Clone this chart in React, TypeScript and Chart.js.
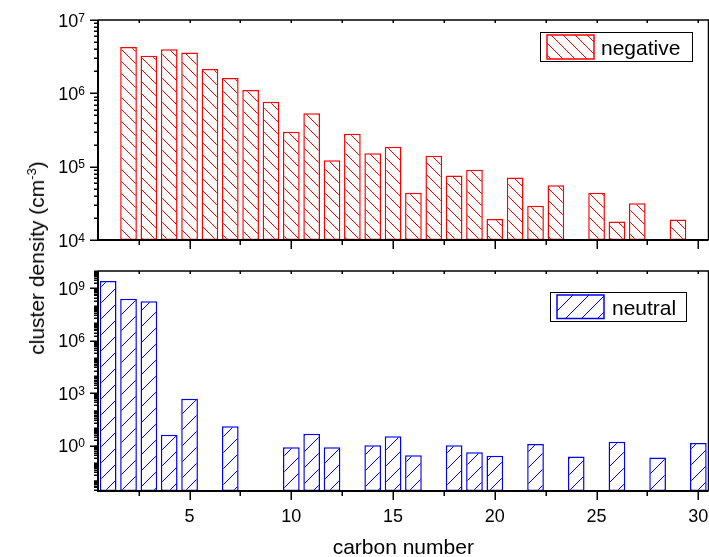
import React, { useEffect, useRef } from "react";
import { Chart, registerables } from "chart.js";

Chart.register(...registerables);

// ---------- data ----------
const carbonNumbers: string[] = [
  "1", "2", "3", "4", "5", "6", "7", "8", "9", "10",
  "11", "12", "13", "14", "15", "16", "17", "18", "19", "20",
  "21", "22", "23", "24", "25", "26", "27", "28", "29", "30",
];

const negativeDensity: (number | null)[] = [
  10300, 4.3e6, 3.26e6, 4.0e6, 3.6e6, 2.15e6, 1.62e6, 1.11e6, 7.7e5, 3.0e5,
  5.33e5, 1.22e5, 2.81e5, 1.52e5, 1.87e5, 4.4e4, 1.41e5, 7.6e4, 9.1e4, 1.93e4,
  7.1e4, 2.93e4, 5.6e4, null, 4.4e4, 1.79e4, 3.17e4, null, 1.91e4, null,
];

const neutralDensity: (number | null)[] = [
  2.7e9, 2.6e8, 1.84e8, 4.2, 485, null, 12.7, null, null, 0.8,
  4.8, 0.8, null, 1.04, 3.4, 0.28, null, 1.04, 0.41, 0.26,
  null, 1.24, null, 0.24, null, 1.67, null, 0.21, null, 1.41,
];

const xMajorTicks: number[] = [5, 10, 15, 20, 25, 30];
const xMinorTicks: number[] = [2.5, 7.5, 12.5, 17.5, 22.5, 27.5];

const topYMajorExponents: number[] = [4, 5, 6, 7];
const bottomYMajorExponents: number[] = [0, 3, 6, 9];

const topYRange: number[] = [1e4, 1e7];
const bottomYRange: number[] = [Math.pow(10, -2.6), 1e10];

const seriesNames: string[] = ["negative", "neutral"];
const xTitle = "carbon number";

// ---------- helpers ----------
const FONT = '"Liberation Sans", Arial, Helvetica, sans-serif';

function makeHatch(color: string, period: number, backslash: boolean): CanvasPattern | string {
  const c = document.createElement("canvas");
  c.width = period;
  c.height = period;
  const g = c.getContext("2d");
  if (!g) return "#fff";
  g.fillStyle = "#ffffff";
  g.fillRect(0, 0, period, period);
  g.strokeStyle = color;
  g.lineWidth = 1;
  g.beginPath();
  if (backslash) {
    g.moveTo(-2, -2);
    g.lineTo(period + 2, period + 2);
    g.moveTo(-2, period - 2);
    g.lineTo(2, period + 2);
    g.moveTo(period - 2, -2);
    g.lineTo(period + 2, 2);
  } else {
    g.moveTo(-2, period + 2);
    g.lineTo(period + 2, -2);
    g.moveTo(-2, 2);
    g.lineTo(2, -2);
    g.moveTo(period - 2, period + 2);
    g.lineTo(period + 2, period - 2);
  }
  g.stroke();
  const p = g.createPattern(c, "repeat");
  return p || "#fff";
}

type LegendBox = {
  x: number; y: number; w: number; h: number;
  sx: number; sy: number; sw: number; sh: number;
  tx: number; ty: number;
};

type PanelCfg = {
  exps: number[];
  yMin: number;
  yMax: number;
  showXLabels: boolean;
  legend: LegendBox;
  label: string;
  color: string;
  pattern: CanvasPattern | string;
};

function panelPlugin(cfg: PanelCfg) {
  return {
    id: "panelDecor",
    afterDraw(chart: any) {
      const ctx: CanvasRenderingContext2D = chart.ctx;
      const a = chart.chartArea;
      const xs = chart.scales.x;
      const ys = chart.scales.y;
      ctx.save();

      // x ticks (bottom outward, top inward)
      ctx.strokeStyle = "#000";
      ctx.lineWidth = 1.5;
      const drawX = (t: number, len: number) => {
        const px = Math.round(xs.getPixelForValue(t - 1)) + 0.25;
        ctx.beginPath();
        ctx.moveTo(px, a.bottom);
        ctx.lineTo(px, a.bottom + len);
        ctx.moveTo(px, a.top);
        ctx.lineTo(px, a.top + 3);
        ctx.stroke();
      };
      xMajorTicks.forEach((t) => drawX(t, 9));
      xMinorTicks.forEach((t) => drawX(t, 5));

      // y ticks (left outward)
      const majorVals = cfg.exps.map((e) => Math.pow(10, e));
      const dLo = Math.floor(Math.log10(cfg.yMin));
      const dHi = Math.ceil(Math.log10(cfg.yMax));
      for (let d = dLo; d <= dHi; d++) {
        for (let m = 1; m <= 9; m++) {
          const v = m * Math.pow(10, d);
          if (v < cfg.yMin * 0.999 || v > cfg.yMax * 1.001) continue;
          const isMajor = m === 1 && cfg.exps.indexOf(d) >= 0;
          const py = Math.round(ys.getPixelForValue(v)) + 0.25;
          const len = isMajor ? 8 : 4;
          ctx.beginPath();
          ctx.moveTo(a.left, py);
          ctx.lineTo(a.left - len, py);
          ctx.stroke();
        }
      }

      // frame
      ctx.lineWidth = 2;
      ctx.beginPath();
      ctx.moveTo(a.left, a.top);
      ctx.lineTo(a.left, a.bottom);
      ctx.lineTo(a.right, a.bottom);
      ctx.stroke();
      ctx.lineWidth = 1.5;
      ctx.beginPath();
      ctx.moveTo(a.left, a.top);
      ctx.lineTo(a.right, a.top);
      ctx.lineTo(a.right, a.bottom);
      ctx.stroke();

      // y tick labels with superscript exponents
      ctx.fillStyle = "#000";
      ctx.textAlign = "left";
      ctx.textBaseline = "alphabetic";
      majorVals.forEach((v, i) => {
        const py = ys.getPixelForValue(v);
        const exp = String(cfg.exps[i]);
        ctx.font = "18px " + FONT;
        const wBase = ctx.measureText("10").width;
        ctx.font = "12px " + FONT;
        const wExp = ctx.measureText(exp).width;
        const right = a.left - 13;
        ctx.font = "18px " + FONT;
        ctx.fillText("10", right - wExp - wBase, py + 6.5);
        ctx.font = "12px " + FONT;
        ctx.fillText(exp, right - wExp, py + 1.5);
      });

      // x tick labels and title
      if (cfg.showXLabels) {
        ctx.font = "18px " + FONT;
        ctx.textAlign = "center";
        xMajorTicks.forEach((t) => {
          const px = xs.getPixelForValue(t - 1);
          ctx.fillText(String(t), px, a.bottom + 31);
        });
        ctx.font = "21px " + FONT;
        ctx.fillText(xTitle, (a.left + a.right) / 2, a.bottom + 63);
      }

      // legend
      const L = cfg.legend;
      ctx.lineWidth = 1;
      ctx.strokeStyle = "#000";
      ctx.strokeRect(L.x + 0.5, L.y + 0.5, L.w, L.h);
      ctx.fillStyle = cfg.pattern as any;
      ctx.fillRect(L.sx, L.sy, L.sw, L.sh);
      ctx.strokeStyle = cfg.color;
      ctx.lineWidth = 1.5;
      ctx.strokeRect(L.sx, L.sy, L.sw, L.sh);
      ctx.fillStyle = "#000";
      ctx.font = "21px " + FONT;
      ctx.textAlign = "left";
      ctx.textBaseline = "alphabetic";
      ctx.fillText(cfg.label, L.tx, L.ty);

      ctx.restore();
    },
  };
}

function buildChart(
  canvas: HTMLCanvasElement,
  values: (number | null)[],
  color: string,
  pattern: CanvasPattern | string,
  padding: { left: number; right: number; top: number; bottom: number },
  cfg: PanelCfg
) {
  return new Chart(canvas, {
    type: "bar",
    data: {
      labels: carbonNumbers,
      datasets: [
        {
          label: cfg.label,
          data: values as any,
          backgroundColor: pattern as any,
          borderColor: color,
          borderWidth: 1.5,
          borderSkipped: false,
          barPercentage: 0.82,
          categoryPercentage: 1,
        },
      ],
    },
    options: {
      animation: false,
      responsive: false,
      devicePixelRatio: 1,
      layout: { padding },
      plugins: { legend: { display: false }, tooltip: { enabled: false } },
      scales: {
        x: { type: "category", display: false, offset: true },
        y: { type: "logarithmic", display: false, min: cfg.yMin, max: cfg.yMax },
      },
    },
    plugins: [panelPlugin(cfg)],
  });
}

export default function App() {
  const topRef = useRef<HTMLCanvasElement | null>(null);
  const botRef = useRef<HTMLCanvasElement | null>(null);

  useEffect(() => {
    if (!topRef.current || !botRef.current) return;
    const red = "#ff0000";
    const blue = "#0000ff";
    const redHatch = makeHatch(red, 12, true);
    const blueHatch = makeHatch(blue, 16, false);

    const topChart = buildChart(
      topRef.current,
      negativeDensity,
      red,
      redHatch,
      { left: 98, right: 0.5, top: 20, bottom: 20 },
      {
        exps: topYMajorExponents,
        yMin: topYRange[0],
        yMax: topYRange[1],
        showXLabels: false,
        legend: { x: 540, y: 32, w: 152, h: 29, sx: 547, sy: 35, sw: 47, sh: 24, tx: 601, ty: 55 },
        label: seriesNames[0],
        color: red,
        pattern: redHatch,
      }
    );
    const botChart = buildChart(
      botRef.current,
      neutralDensity,
      blue,
      blueHatch,
      { left: 98, right: 0.5, top: 11, bottom: 66 },
      {
        exps: bottomYMajorExponents,
        yMin: bottomYRange[0],
        yMax: bottomYRange[1],
        showXLabels: true,
        legend: { x: 550, y: 32, w: 136, h: 29, sx: 557, sy: 35, sw: 47, sh: 23.5, tx: 612, ty: 55 },
        label: seriesNames[1],
        color: blue,
        pattern: blueHatch,
      }
    );
    return () => {
      topChart.destroy();
      botChart.destroy();
    };
  }, []);

  return (
    <div
      style={{
        position: "absolute",
        left: 0,
        top: 0,
        width: 709,
        height: 557,
        background: "#fff",
        overflow: "hidden",
      }}
    >
      <canvas
        ref={topRef}
        width={709}
        height={260}
        style={{ position: "absolute", left: 0, top: 0, width: 709, height: 260 }}
      />
      <canvas
        ref={botRef}
        width={709}
        height={297}
        style={{ position: "absolute", left: 0, top: 260, width: 709, height: 297 }}
      />
      <div
        style={{
          position: "absolute",
          left: 37,
          top: 258,
          transform: "translate(-50%, -50%) rotate(-90deg)",
          whiteSpace: "nowrap",
          fontFamily: FONT,
          fontSize: 21,
          lineHeight: "24px",
          color: "#000",
        }}
      >
        cluster density (cm
        <sup style={{ fontSize: 13, verticalAlign: "super", lineHeight: 0 }}>-3</sup>)
      </div>
    </div>
  );
}
